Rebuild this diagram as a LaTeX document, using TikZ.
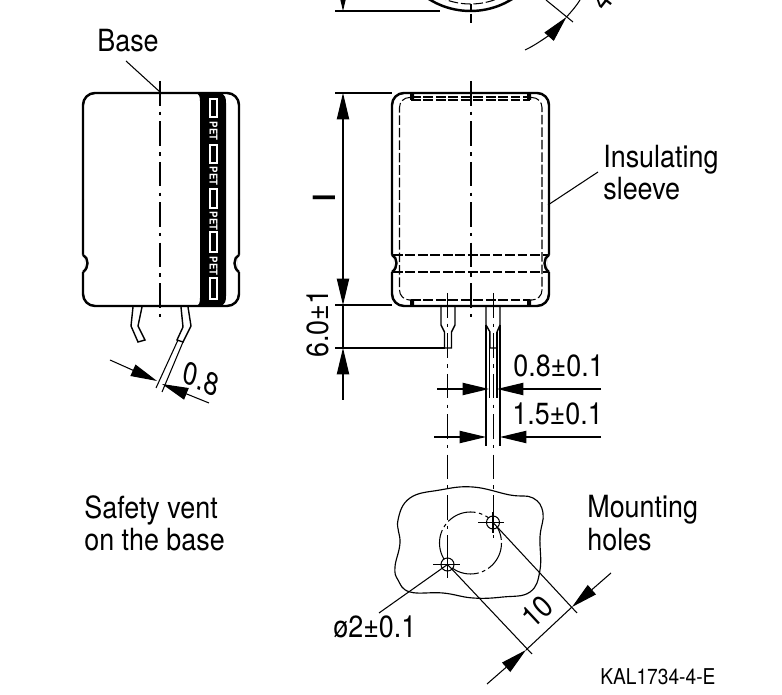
\documentclass[tikz,border=0pt]{standalone}
\usepackage{fontspec}
\usetikzlibrary{arrows.meta}
\setmainfont{TeX Gyre Heros}[FakeStretch=0.88]

\begin{document}
\begin{tikzpicture}[x=0.02cm,y=-0.02cm]
\tikzstyle{body}=[line width=1.4pt,rounded corners=0.24cm]
\tikzstyle{thin}=[line width=0.6pt]
\tikzstyle{hidden}=[line width=0.6pt,dash pattern=on 5.5pt off 1.6pt]
\tikzstyle{axis}=[line width=0.6pt,dash pattern=on 14pt off 3.5pt on 2pt off 3.5pt]
\tikzstyle{dim}=[line width=0.6pt,-{Triangle[length=15pt,width=7pt]}]
\tikzstyle{label}=[inner sep=0pt,anchor=base west,font=\fontsize{17.4}{19}\selectfont]
\tikzstyle{pet}=[inner sep=0pt,rotate=-90,text=white,font=\fontsize{6.2}{7}\bfseries\selectfont]
\tikzstyle{petbox}=[draw=white,line width=0.9pt]

\path[use as bounding box,clip] (0,0) rectangle (782,695);

% side view
\fill[black] (197,93) .. controls (199,94) and (200,97) .. (200,101) -- (200,298)
  .. controls (200,303) and (199,305) .. (197,306) -- (222,306)
  .. controls (225,304) and (226,301) .. (226,296) -- (226,103)
  .. controls (226,98) and (225,95) .. (222,93) -- cycle;
\draw[body] (83,200) -- (83,93) -- (239,93) -- (239,200);
\draw[body] (83,200) -- (83,306) -- (239,306) -- (239,200);
\fill[white] (80,255) rectangle (84.5,272) (237.5,255) rectangle (242,272);
\draw[line width=1.4pt] (83,255) .. controls (89,258) and (89,268) .. (83,272);
\draw[line width=1.4pt] (239,255) .. controls (233,258) and (233,268) .. (239,272);
\foreach \ya/\yb in {99/117,145/163,189/208,232/252,278/299}
  \draw[petbox] (210,\ya) rectangle (217,\yb);
\foreach \yc [count=\i] in {131,176,221,266}
  \node[pet] (pet\i) at (213.5,\yc) {PET};
\draw[axis] (160,81) -- (160,318);
\coordinate (baseEnd) at (126,61);
\coordinate (baseTip) at (160,92);
\node[label] (base) at (97,52) {Base};
\draw[thin] (baseEnd) -- (baseTip);

% bent leads
\draw[line width=0.8pt] (133,307) -- (131,326) -- (138,342) -- (145,340) -- (138,326) -- (142,307);
\draw[line width=0.8pt] (181,307) -- (183,327) -- (177,340) -- (183,342) -- (191,326) -- (188,307);
\draw[thin] (178,340) -- (156,388);
\draw[thin] (183,342) -- (162,392);
\draw[dim] (110,360) -- (157,381);
\draw[dim] (209,403) -- (162,384);
\node[label,anchor=center,rotate=-24,xslant=-0.2] (leadSize) at (201,379) {0.8};

% front view
\draw[body] (392,200) -- (392,93) -- (549,93) -- (549,200);
\draw[body] (392,200) -- (392,306) -- (549,306) -- (549,200);
\fill[white] (389,255) rectangle (393.5,272) (547.5,255) rectangle (552,272);
\draw[line width=1.4pt] (392,255) .. controls (398,258) and (398,268) .. (392,272);
\draw[line width=1.4pt] (549,255) .. controls (543,258) and (543,268) .. (549,272);
\draw[hidden,rounded corners=0.2cm] (411,97.5) -- (399.5,97.5) -- (399.5,300) -- (411,300);
\draw[hidden,rounded corners=0.2cm] (530,97.5) -- (542,97.5) -- (542,300) -- (530,300);
\draw[hidden] (411,97) -- (530,97);
\draw[hidden] (411,100) -- (530,100);
\draw[hidden] (411,300) -- (530,300);
\draw[hidden] (393,255) -- (548,255);
\draw[hidden] (393,272) -- (548,272);
\fill[black] (410,94) rectangle (414,100) (527,94) rectangle (531,100);
\fill[black] (410,300) rectangle (414,306) (527,300) rectangle (531,306);
\draw[axis] (471,81) -- (471,318);

% straight leads
\draw[line width=0.8pt] (441,307) -- (441,325) -- (444.5,332) -- (444.5,348) -- (451.5,348) -- (451.5,332) -- (455,325) -- (455,307);
\draw[line width=0.8pt] (486,307) -- (486,325) -- (490,332) -- (490,348) -- (497,348) -- (497,332) -- (500,325) -- (500,307);
\draw[thin] (486,325) -- (486,446);
\draw[thin] (500,325) -- (500,446);
\draw[thin] (489.5,332) -- (489.5,398);
\draw[thin] (497,332) -- (497,398);
\draw[axis] (447.5,293) -- (447.5,578);
\draw[axis] (493.5,293) -- (493.5,538);

% dimensions of the front view
\coordinate (lenTop) at (343,93);
\coordinate (lenBot) at (343,305);
\coordinate (pinBot) at (343,348);
\draw[thin] (335,93) -- (392,93);
\draw[thin] (335,305) -- (392,305);
\draw[thin] (335,348) -- (445,348);
\draw[thin,{Triangle[length=15pt,width=7pt]}-{Triangle[length=15pt,width=7pt]}] (lenTop) -- (lenBot);
\draw[thin] (lenBot) -- (pinBot);
\draw[dim] (343,400) -- (pinBot);
\node[label,anchor=center,rotate=90,font=\fontsize{17.4}{19}\bfseries\selectfont] (lenName) at (324,198) {l};
\node[label,rotate=90] (pinLen) at (328,358) {6.0±1};

\draw[dim] (437,389) -- (489,389);
\draw[dim] (601,389) -- (497,389);
\node[label] (pinWire) at (513,377) {0.8±0.1};
\draw[dim] (434,437) -- (486,437);
\draw[dim] (601,437) -- (500,437);
\node[label] (pinLead) at (512,425) {1.5±0.1};

\coordinate (sleeveEnd) at (598,172);
\coordinate (sleeveTip) at (548,205);
\draw[thin] (sleeveEnd) -- (sleeveTip);
\node[label] (sleeve1) at (603,168) {Insulating};
\node[label] (sleeve2) at (603,200) {sleeve};

% end view, cut by the top edge
\draw[line width=1.4pt] (470.5,-67.5) circle[radius=78.5];
\draw[hidden] (470.5,-67.5) circle[radius=71.5];
\draw[thin] (335,11) -- (440,11);
\draw[dim] (343,-10) -- (343,11);
\draw[thin] (471,4) -- (471,10);
\draw[thin] (471,14) -- (471,23);
\draw[thin] (546,0) -- (573,22);
\draw[dim] (525,50) .. controls (540,43) and (555,30) .. (566.5,17);
\draw[thin] (566.5,17) .. controls (572,11) and (577,5) .. (580,0);
\node[label,anchor=center,rotate=52] (angle) at (602,0) {4};

% mounting holes
\draw[line width=0.65pt] plot[smooth cycle,tension=0.7] coordinates {(398,520) (410,498) (440,490) (473,487) (510,495) (533,498) (543,513) (540,537) (540,570) (530,592) (503,597) (473,598) (443,593) (410,592) (398,580) (395,567) (400,543)};
\draw[line width=0.6pt,dash pattern=on 17pt off 2pt on 2pt off 2pt] (470.5,543) circle[radius=31];
\fill[white] (447.5,564.5) circle[radius=6.5] (493,522.5) circle[radius=6.5];
\node[circle,draw,line width=0.6pt,minimum size=0.26cm,inner sep=0pt] (holeA) at (447.5,564.5) {};
\node[circle,draw,line width=0.6pt,minimum size=0.26cm,inner sep=0pt] (holeB) at (493,522.5) {};
\draw[thin] (433,564.5) -- (460,564.5);
\draw[thin] (478,522.5) -- (504,522.5);
\draw[thin] (447.5,555) -- (447.5,578);
\draw[thin] (493,512) -- (493,533);
\draw[thin] (holeB.center) -- (577,613);
\draw[thin] (holeA.center) -- (532,654);
\draw[thin] (holeA.center) -- (379,613);
\draw[dim] (487,684) -- (526,650);
\draw[thin] (526,650) -- (572,607);
\draw[dim] (611,573) -- (572,607);
\node[label,anchor=center,rotate=43] (pitch) at (537,612) {10};
\node[label] (holeSize) at (333,638) {ø2±0.1};

\node[label] (vent1) at (84,519) {Safety vent};
\node[label] (vent2) at (84,551) {on the base};
\node[label] (holes1) at (587,518) {Mounting};
\node[label] (holes2) at (587,551) {holes};
\node[label,font=\fontsize{12.4}{14}\selectfont] (code) at (600,685) {KAL1734-4-E};

\end{tikzpicture}
\end{document}
